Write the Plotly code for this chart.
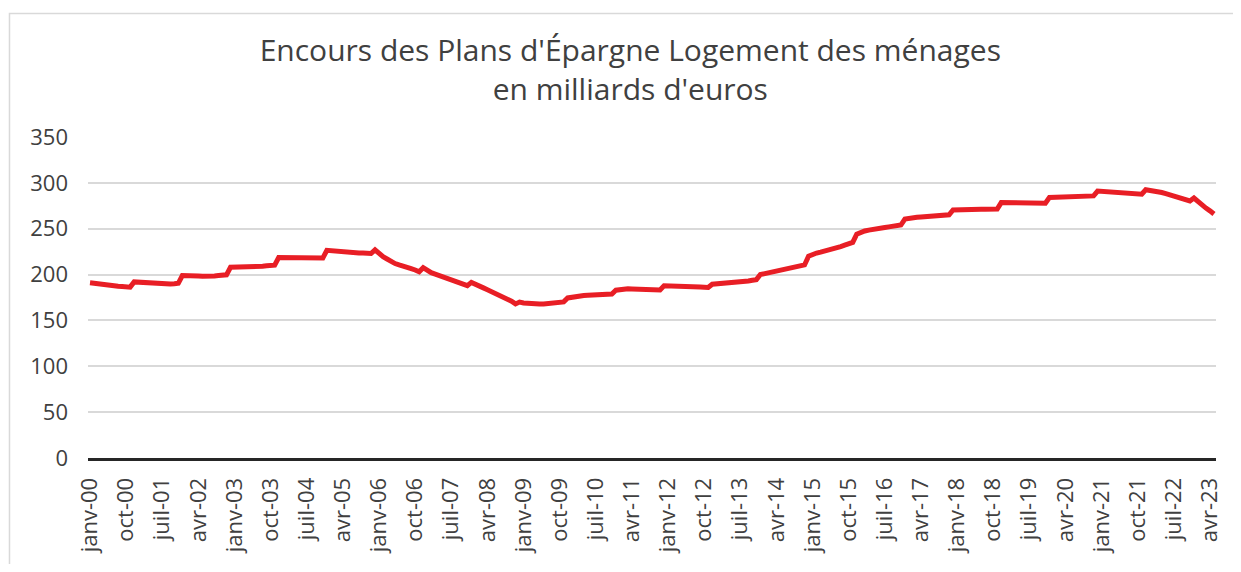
import plotly.graph_objects as go

# Monthly outstanding amounts (billions of euros), Jan 2000 -> May 2023
v2000 = [191.0, 190.3, 189.7, 189.2, 188.7, 188.2, 187.7, 187.3, 187.0, 186.6, 186.3, 192.0]
v2001 = [191.6, 191.2, 190.8, 190.4, 190.0, 189.7, 189.5, 189.4, 189.6, 190.0, 190.5, 199.0]
v2002 = [199.2, 199.0, 198.8, 198.5, 198.2, 198.0, 198.2, 198.5, 198.9, 199.3, 199.7, 208.0]
v2003 = [208.0, 208.1, 208.2, 208.3, 208.4, 208.5, 208.7, 209.0, 209.5, 210.0, 210.3, 218.6]
v2004 = [218.5, 218.3, 218.1, 218.0, 217.9, 217.8, 217.8, 217.7, 217.7, 217.8, 218.0, 226.5]
v2005 = [226.0, 225.5, 225.0, 224.6, 224.3, 224.0, 223.8, 223.6, 223.4, 223.2, 223.0, 227.0]
v2006 = [223.0, 219.5, 217.0, 214.0, 212.0, 210.5, 209.5, 208.0, 206.5, 205.0, 203.0, 207.5]
v2007 = [204.0, 202.0, 200.5, 199.0, 197.5, 195.5, 194.0, 193.0, 191.8, 190.0, 188.0, 191.5]
v2008 = [189.0, 187.0, 185.5, 183.5, 181.5, 179.5, 178.0, 176.5, 174.5, 171.0, 168.0, 170.0]
v2009 = [169.0, 168.5, 168.2, 168.0, 168.0, 168.0, 168.3, 168.7, 169.2, 169.7, 170.2, 174.5]
v2010 = [175.5, 176.2, 176.8, 177.2, 177.5, 177.7, 177.9, 178.1, 178.3, 178.5, 178.8, 183.0]
v2011 = [183.8, 184.2, 184.4, 184.2, 184.0, 183.8, 183.6, 183.4, 183.3, 183.2, 183.2, 187.7]
v2012 = [187.7, 187.6, 187.5, 187.4, 187.2, 187.0, 186.8, 186.6, 186.4, 186.2, 186.0, 189.5]
v2013 = [189.8, 190.0, 190.2, 190.4, 190.6, 191.0, 191.6, 192.3, 193.0, 193.8, 194.5, 200.0]
v2014 = [201.0, 202.0, 202.7, 203.3, 204.0, 205.0, 206.0, 207.0, 208.0, 209.0, 210.5, 220.0]
v2015 = [222.0, 223.5, 224.5, 225.5, 226.5, 227.5, 229.0, 230.5, 232.0, 233.5, 235.0, 244.0]
v2016 = [246.0, 247.5, 248.5, 249.5, 250.0, 250.7, 251.3, 252.0, 252.7, 253.3, 254.0, 260.5]
v2017 = [261.5, 262.0, 262.4, 262.8, 263.1, 263.5, 263.8, 264.1, 264.5, 264.8, 265.2, 270.5]
v2018 = [270.8, 271.0, 271.0, 271.1, 271.1, 271.2, 271.2, 271.2, 271.3, 271.3, 271.4, 278.5]
v2019 = [278.5, 278.4, 278.3, 278.2, 278.1, 278.0, 278.0, 278.0, 278.0, 277.9, 277.9, 284.0]
v2020 = [284.2, 284.4, 284.6, 284.8, 285.0, 285.2, 285.4, 285.5, 285.6, 285.7, 285.8, 291.0]
v2021 = [290.8, 290.5, 290.2, 289.9, 289.6, 289.3, 289.0, 288.7, 288.3, 288.0, 287.6, 292.5]
v2022 = [292.0, 291.3, 290.5, 289.5, 288.3, 287.0, 285.8, 284.6, 283.2, 281.8, 280.3, 283.5]
v2023 = [279.5, 276.0, 272.5, 269.5, 266.0]

yearly = [v2000, v2001, v2002, v2003, v2004, v2005, v2006, v2007, v2008, v2009,
          v2010, v2011, v2012, v2013, v2014, v2015, v2016, v2017, v2018, v2019,
          v2020, v2021, v2022, v2023]
values = [v for year in yearly for v in year]

month_names = ["janv", "févr", "mars", "avr", "mai", "juin",
               "juil", "août", "sept", "oct", "nov", "déc"]
years = list(range(2000, 2024))
months = [f"{month_names[m]}-{y % 100:02d}" for yi, y in enumerate(years)
          for m in range(len(yearly[yi]))]
tick_labels = months[::9]

y_ticks = [0, 50, 100, 150, 200, 250, 300, 350]

FONT = "Open Sans"
TXT = "#404040"

fig = go.Figure()
fig.add_trace(go.Scatter(
    x=months, y=values, mode="lines",
    line=dict(color="#E81E25", width=5),
    hoverinfo="x+y", showlegend=False,
))

fig.update_layout(
    width=1225, height=556,
    margin=dict(l=80, r=10, t=129, b=96),
    paper_bgcolor="white", plot_bgcolor="white",
    title=dict(
        text="Encours des Plans d'Épargne Logement des ménages<br>en milliards d'euros",
        x=0.508, xanchor="center", y=0.905, yanchor="top",
        font=dict(family=FONT, size=30, color=TXT),
    ),
    font=dict(family=FONT, color=TXT),
    xaxis=dict(
        type="category", range=[-0.5, len(months) - 0.5],
        tickmode="array", tickvals=tick_labels, ticktext=tick_labels,
        tickangle=-90, tickfont=dict(family=FONT, size=22, color=TXT),
        showgrid=False, showline=True, linecolor="#262626", linewidth=3,
        ticks="", ticklabelstandoff=8, zeroline=False,
    ),
    yaxis=dict(
        range=[0, 350], tickvals=y_ticks,
        tickfont=dict(family=FONT, size=22, color=TXT),
        showgrid=True, gridcolor="#D9D9D9", gridwidth=1.5,
        zeroline=False, showline=False, ticks="", ticklabelstandoff=19,
    ),
    shapes=[dict(type="rect", xref="paper", yref="paper",
                 x0=-0.0696, x1=1.1, y0=-0.5, y1=1.3846,
                 line=dict(color="#D9D9D9", width=1.5), layer="below")],
)

fig.write_html("out.html")
